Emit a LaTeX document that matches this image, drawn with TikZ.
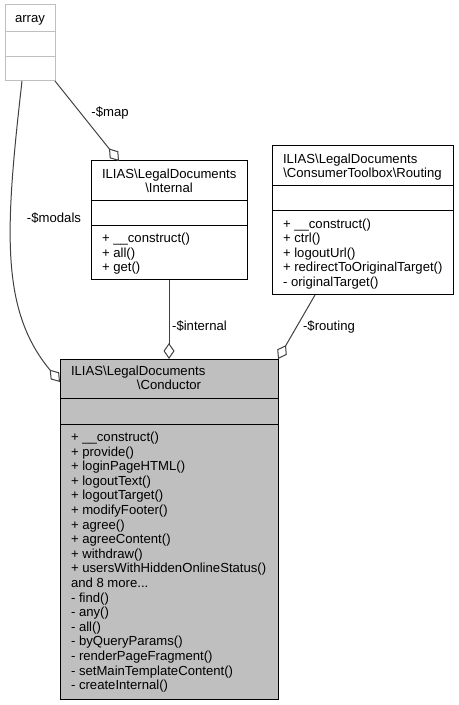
\documentclass[tikz,border=0pt]{standalone}
\usepackage{fontspec}
\setmainfont{Liberation Sans}
\usetikzlibrary{arrows.meta,calc}
\newdimen\px
\px=0.75pt
\definecolor{boxgrey}{RGB}{191,191,191}
\definecolor{edgegrey}{RGB}{64,64,64}
\begin{document}
\begin{tikzpicture}[x=0.75pt,y=-0.75pt,
  txt/.style={inner sep=0pt,outer sep=0pt,font=\fontsize{9.85}{11.8}\selectfont},
  classbox/.style={draw=black,line width=0.75pt,inner sep=0pt,outer sep=0pt,anchor=north west},
  extbox/.style={classbox,draw=boxgrey},
  mainbox/.style={classbox,fill=boxgrey},
  divider/.style={line width=0.75pt},
  edge/.style={draw=edgegrey,line width=0.75pt,
    -{Diamond[length=12pt,width=8.25pt,fill=white,line width=0.75pt]}},
  elabel/.style={txt}
]
\useasboundingbox (0,0) rectangle (459,705);
\fill[white] (0,0) rectangle (459,705);

% array
\node[extbox,minimum width=50\px,minimum height=76\px] (arr) at (5,5) {};
\draw[divider,boxgrey] (5,32) -- (55,32);
\draw[divider,boxgrey] (5,57) -- (55,57);
\node[txt,anchor=base] (arrt) at (30,22.5) {array};

% Internal
\node[classbox,minimum width=156\px,minimum height=119\px] (int) at (91,161) {};
\draw[divider] (91,201) -- (247,201);
\draw[divider] (91,226) -- (247,226);
\node[txt,anchor=base west] (intt1) at (102,178.5) {ILIAS\textbackslash LegalDocuments};
\node[txt,anchor=base] (intt2) at (169,192.5) {\textbackslash Internal};
\node[txt,anchor=base west] (intm1) at (102,243) {+ \_\_construct()};
\node[txt,anchor=base west] (intm2) at (102,257.5) {+ all()};
\node[txt,anchor=base west] (intm3) at (102,272) {+ get()};

% Routing
\node[classbox,minimum width=181\px,minimum height=149\px] (rout) at (272,146) {};
\draw[divider] (272,186) -- (453,186);
\draw[divider] (272,211) -- (453,211);
\node[txt,anchor=base west] (routt1) at (283,163.5) {ILIAS\textbackslash LegalDocuments};
\node[txt,anchor=base] (routt2) at (362.5,177.5) {\textbackslash ConsumerToolbox\textbackslash Routing};
\node[txt,anchor=base west] (routm1) at (283,228.5) {+ \_\_construct()};
\node[txt,anchor=base west] (routm2) at (283,243) {+ ctrl()};
\node[txt,anchor=base west] (routm3) at (283,257.5) {+ logoutUrl()};
\node[txt,anchor=base west] (routm4) at (283,272) {+ redirectToOriginalTarget()};
\node[txt,anchor=base west] (routm5) at (283,286.5) {- originalTarget()};

% Conductor
\node[mainbox,minimum width=218\px,minimum height=340\px] (cond) at (60,359) {};
\draw[divider] (60,398.5) -- (278,398.5);
\draw[divider] (60,424) -- (278,424);
\node[txt,anchor=base west] (condt1) at (71,375.5) {ILIAS\textbackslash LegalDocuments};
\node[txt,anchor=base] (condt2) at (169,389.5) {\textbackslash Conductor};
\foreach [count=\k from 0] \t in {
  {+ \_\_construct()}, {+ provide()}, {+ loginPageHTML()}, {+ logoutText()},
  {+ logoutTarget()}, {+ modifyFooter()}, {+ agree()}, {+ agreeContent()},
  {+ withdraw()}, {+ usersWithHiddenOnlineStatus()}, {and 8 more{.}{.}{.}}, {- find()},
  {- any()}, {- all()}, {- byQueryParams()}, {- renderPageFragment()},
  {- setMainTemplateContent()}, {- createInternal()}}
  \node[txt,anchor=base west] (condm\k) at (71,441.5+14.6*\k) {\t};

% connectors
\draw[edge] ([xshift=-8\px]arr.south) .. controls (5,230) and (0,310) .. ([yshift=-23\px]cond.north west);
\draw[edge] (arr.south east) -- ([xshift=-50\px]int.north);
\draw[edge] (int.south) -- (cond.north);
\draw[edge] ([xshift=-47.5\px]rout.south) -- (cond.north east);

% edge labels
\node[elabel] (lmodals) at (54,218) {-\$modals};
\node[elabel] (lmap) at (110,113) {-\$map};
\node[elabel] (linternal) at (199.5,326) {-\$internal};
\node[elabel] (lrouting) at (329,327) {-\$routing};
\end{tikzpicture}
\end{document}
